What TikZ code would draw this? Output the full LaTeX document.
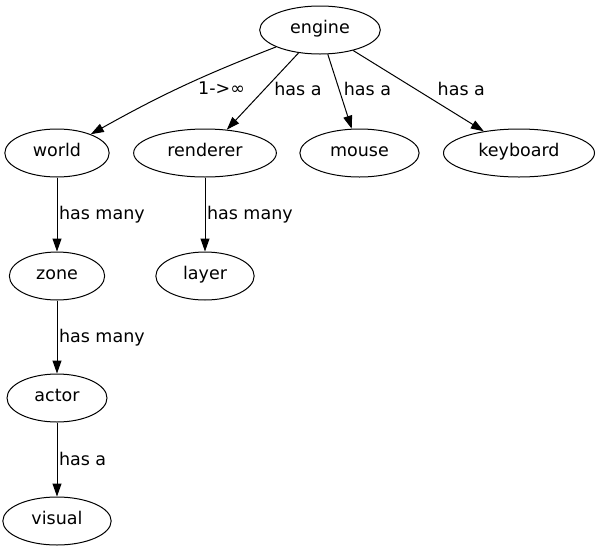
\documentclass[tikz,border=0pt]{standalone}
\usepackage{fontspec}
\setmainfont{DejaVu Sans}
\usetikzlibrary{positioning,arrows.meta,shapes.geometric}
\tikzset{%
    obj/.style={ellipse,draw,line width=1pt,inner xsep=12.8pt,minimum height=48pt,text height=1.5ex,text depth=.25ex},
    rel/.style={->,line width=1pt},
    lbl/.style={anchor=west,inner sep=0pt,text height=1.5ex,text depth=.25ex},
}

\begin{document}
\begin{tikzpicture}[x=1pt,y=-1pt,>={Triangle[length=13pt,width=9pt]},font=\fontsize{17.5pt}{21pt}\selectfont]
    \useasboundingbox (0,0) rectangle (597,552);

    % top level
    \node[obj] (engine) at (320,30) {engine};
    \node[obj] (world) at (57,153) {world};
    \node[obj] (renderer) at (205,153) {renderer};
    \node[obj] (mouse) at (359.5,153) {mouse};
    \node[obj] (keyboard) at (519,153) {keyboard};
    % world side
    \node[obj] (zone) at (57,276) {zone};
    \node[obj] (actor) at (57,398) {actor};
    \node[obj] (visual) at (57,521) {visual};
    % renderer side
    \node[obj] (layer) at (205,276) {layer};

    % arrows
    \draw[rel] (engine) to[bend right=4] node[lbl,pos=0.5,xshift=16pt,yshift=-4pt] {1->∞} (world);
    \draw[rel] (engine) -- node[lbl,pos=0.484,xshift=10pt,yshift=-2pt] {has a} (renderer);
    \draw[rel] (engine) -- node[lbl,pos=0.48,xshift=4pt,yshift=-2pt] {has a} (mouse);
    \draw[rel] (engine) -- node[lbl,pos=0.49,xshift=20pt,yshift=-2pt] {has a} (keyboard);
    \draw[rel] (world) -- node[lbl,xshift=1.5pt,yshift=-2pt] {has many} (zone);
    \draw[rel] (zone) -- node[lbl,xshift=1.5pt,yshift=-2pt] {has many} (actor);
    \draw[rel] (actor) -- node[lbl,xshift=1.5pt,yshift=-3pt] {has a} (visual);
    \draw[rel] (renderer) -- node[lbl,xshift=1.5pt,yshift=-2pt] {has many} (layer);

\end{tikzpicture}
\end{document}
